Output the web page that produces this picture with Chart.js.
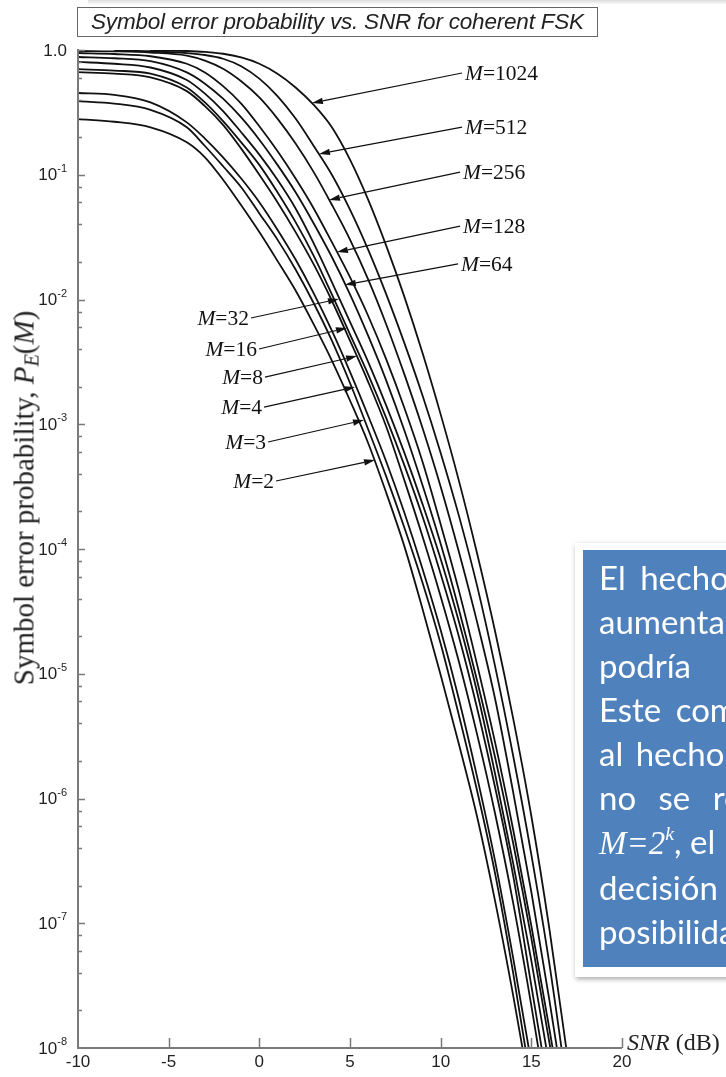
<!DOCTYPE html>
<html lang="es">
<head>
<meta charset="utf-8">
<title>Symbol error probability vs. SNR for coherent FSK</title>
<script src="https://cdn.jsdelivr.net/npm/chart.js@4.4.1/dist/chart.umd.min.js"></script>
<style>
  html, body { margin: 0; padding: 0; background: #fff; overflow: hidden; }
  #page { position: relative; width: 726px; height: 1077px; overflow: hidden; }
  #chart { position: absolute; left: 0; top: 0; }
  .shade { position: absolute; left: 88px; top: 0; width: 638px; height: 5px;
    background: linear-gradient(#dcdcdc, rgba(255,255,255,0)); }
  #title { position: absolute; left: 77px; top: 7px; width: 521px; height: 30px; box-sizing: border-box;
    border: 1px solid #666; font: italic 22.5px "Liberation Sans", Arial, sans-serif; color: #222;
    line-height: 27px; text-align: center; white-space: nowrap; letter-spacing: -0.2px; }
  #ytitle { position: absolute; left: 24px; top: 498px; transform: translate(-50%, -50%) rotate(-90deg);
    font: 29px "Liberation Serif", serif; color: #222; white-space: nowrap; }
  #ytitle i { font-style: italic; }
  #ytitle sub { font-size: 70%; vertical-align: -0.25em; line-height: 0; }
  #xtitle { position: absolute; left: 627px; top: 1029px; font: 24px "Liberation Serif", serif; color: #222; white-space: nowrap; }
  #note-frame { position: absolute; left: 575px; top: 543px; width: 200px; height: 434px; background: #fff;
    box-shadow: 1px 2px 5px rgba(0,0,0,0.35); }
  #note { position: absolute; left: 583px; top: 550px; width: 190px; height: 417px; box-sizing: border-box;
    padding: 5px 0 0 16px; background: #4f81bd; color: #fff; font: 33px Lato, sans-serif; line-height: 44px; }
  #note div { white-space: nowrap; }
  #note .m { font-family: "Liberation Serif", serif; font-style: italic; }
  #note sup { font-size: 60%; vertical-align: 0.7em; line-height: 0; }
</style>
</head>
<body>
<div id="page">
  <canvas id="chart" width="726" height="1077"></canvas>
  <div class="shade"></div>
  <div id="title">Symbol error probability vs. SNR for coherent FSK</div>
  <div id="ytitle">Symbol error probability, <i>P<sub>E</sub></i>(<i>M</i>)</div>
  <div id="xtitle"><i>SNR</i> (dB)</div>
  <div id="note-frame"></div>
  <div id="note">
    <div style="word-spacing: 6px">El hecho de que la probabilidad de error</div>
    <div>aumenta con M para una SNR fija</div>
    <div style="word-spacing: 40px">podría parecer sorprendente.</div>
    <div style="word-spacing: 6px">Este comportamiento se debe</div>
    <div style="word-spacing: 4px">al hecho de que la SNR por símbolo</div>
    <div style="word-spacing: 14px">no se reparte entre los bits: con</div>
    <div><span class="m">M=2<sup>k</sup></span>, el receptor toma una sola</div>
    <div>decisión entre M señales, y crece la</div>
    <div>posibilidad de confundirlas.</div>
  </div>
</div>
<script>
// SNR (dB) sample points shared by every curve
const snrDb = [-10, -8, -6, -4, -3, -2, -1, 0, 1, 2, 3, 4, 5, 6, 7, 8, 9, 10, 11, 12, 13, 14, 15, 16, 17];

// symbol error probability, one list per M
const peM2 = [2.79e-1, 2.66e-1, 2.40e-1, 1.82e-1, 1.38e-1, 9.12e-2, 5.69e-2, 3.47e-2, 2.04e-2, 1.18e-2, 6.31e-3, 3.24e-3, 1.55e-3, 7.08e-4, 2.82e-4, 1.05e-4, 3.31e-5, 9.77e-6, 2.75e-6, 7.24e-7, 1.51e-7, 2.63e-8, 3.98e-9, 5.01e-10, 6.31e-11];
const peM3 = [3.89e-1, 3.72e-1, 3.31e-1, 2.40e-1, 1.70e-1, 1.17e-1, 7.94e-2, 4.90e-2, 3.02e-2, 1.74e-2, 9.33e-3, 4.68e-3, 2.14e-3, 9.12e-4, 3.80e-4, 1.48e-4, 5.37e-5, 1.74e-5, 4.68e-6, 1.17e-6, 2.51e-7, 3.98e-8, 5.01e-9, 6.31e-10, 7.94e-11];
const peM4 = [4.52e-1, 4.37e-1, 3.80e-1, 2.63e-1, 1.95e-1, 1.38e-1, 9.33e-2, 6.03e-2, 3.63e-2, 2.09e-2, 1.12e-2, 5.62e-3, 2.63e-3, 1.17e-3, 5.01e-4, 1.95e-4, 6.92e-5, 2.24e-5, 6.31e-6, 1.51e-6, 3.16e-7, 5.25e-8, 7.59e-9, 1.00e-9, 1.26e-10];
const peM8 = [6.65e-1, 6.46e-1, 6.03e-1, 4.68e-1, 3.55e-1, 2.51e-1, 1.62e-1, 1.00e-1, 6.03e-2, 3.47e-2, 1.91e-2, 9.77e-3, 4.68e-3, 2.19e-3, 9.55e-4, 3.55e-4, 1.26e-4, 4.17e-5, 1.26e-5, 3.31e-6, 7.59e-7, 1.45e-7, 2.19e-8, 2.82e-9, 3.55e-10];
const peM16 = [7.03e-1, 6.84e-1, 6.46e-1, 5.01e-1, 3.80e-1, 2.69e-1, 1.82e-1, 1.20e-1, 7.24e-2, 4.17e-2, 2.24e-2, 1.10e-2, 5.25e-3, 2.51e-3, 1.12e-3, 4.68e-4, 1.82e-4, 6.31e-5, 2.00e-5, 5.37e-6, 1.23e-6, 2.40e-7, 3.16e-8, 4.17e-9, 5.25e-10];
const peM32 = [8.02e-1, 7.76e-1, 7.24e-1, 5.75e-1, 4.47e-1, 3.24e-1, 2.19e-1, 1.45e-1, 9.12e-2, 5.37e-2, 2.82e-2, 1.38e-2, 6.61e-3, 3.16e-3, 1.41e-3, 5.89e-4, 2.29e-4, 8.32e-5, 2.63e-5, 7.24e-6, 1.58e-6, 3.02e-7, 5.01e-8, 7.08e-9, 1.00e-9];
const peM64 = [8.79e-1, 8.59e-1, 8.13e-1, 6.61e-1, 5.37e-1, 4.07e-1, 2.88e-1, 1.91e-1, 1.20e-1, 7.24e-2, 4.07e-2, 2.19e-2, 1.10e-2, 5.13e-3, 2.24e-3, 8.91e-4, 3.24e-4, 1.10e-4, 3.31e-5, 8.91e-6, 2.14e-6, 4.37e-7, 7.59e-8, 1.10e-8, 1.41e-9];
const peM128 = [9.46e-1, 9.29e-1, 8.91e-1, 7.76e-1, 6.61e-1, 5.13e-1, 3.72e-1, 2.45e-1, 1.55e-1, 9.33e-2, 5.37e-2, 2.88e-2, 1.51e-2, 7.41e-3, 3.31e-3, 1.35e-3, 5.01e-4, 1.58e-4, 4.68e-5, 1.20e-5, 2.82e-6, 5.62e-7, 9.55e-8, 1.41e-8, 1.91e-9];
const peM256 = [9.82e-1, 9.75e-1, 9.55e-1, 9.02e-1, 8.22e-1, 7.08e-1, 5.62e-1, 4.17e-1, 2.82e-1, 1.78e-1, 1.05e-1, 5.75e-2, 3.02e-2, 1.45e-2, 6.31e-3, 2.51e-3, 9.33e-4, 3.16e-4, 9.55e-5, 2.63e-5, 6.31e-6, 1.12e-6, 1.78e-7, 2.40e-8, 2.82e-9];
const peM512 = [null, 9.91e-1, 9.77e-1, 9.44e-1, 9.12e-1, 8.51e-1, 7.41e-1, 5.89e-1, 4.27e-1, 2.82e-1, 1.70e-1, 1.00e-1, 5.25e-2, 2.51e-2, 1.10e-2, 4.47e-3, 1.70e-3, 5.89e-4, 1.86e-4, 5.13e-5, 1.15e-5, 2.19e-6, 3.55e-7, 4.68e-8, 4.47e-9];
const peM1024 = [null, null, 9.91e-1, 9.82e-1, 9.66e-1, 9.33e-1, 8.71e-1, 7.76e-1, 6.46e-1, 5.01e-1, 3.63e-1, 2.40e-1, 1.32e-1, 6.31e-2, 2.69e-2, 1.05e-2, 3.72e-3, 1.20e-3, 3.55e-4, 9.33e-5, 2.19e-5, 4.37e-6, 7.24e-7, 8.91e-8, 8.32e-9];

const mValues = ['2', '3', '4', '8', '16', '32', '64', '128', '256', '512', '1024'];
const curves = [peM2, peM3, peM4, peM8, peM16, peM32, peM64, peM128, peM256, peM512, peM1024];

// axis ticks
const xTicks = [-10, -5, 0, 5, 10, 15, 20];
const yDecades = [0, -1, -2, -3, -4, -5, -6, -7, -8];

// curve labels: arrow tip on the curve and tail at the label, in data units
const tipSnr = [6.38, 5.77, 5.28, 5.39, 4.83, 4.39, 4.72, 4.28, 3.84, 3.29, 2.90];
const tipPe = [5.16e-4, 1.08e-3, 1.99e-3, 3.52e-3, 5.92e-3, 1.01e-2, 1.31e-2, 2.40e-2, 6.28e-2, 1.47e-1, 3.76e-1];
const tailSnr = [0.92, 0.48, 0.26, 0.31, -0.02, -0.46, 10.96, 11.07, 11.07, 11.18, 11.18];
const tailPe = [3.51e-4, 7.21e-4, 1.37e-3, 2.39e-3, 4.01e-3, 7.11e-3, 1.93e-2, 3.88e-2, 1.05e-1, 2.41e-1, 6.54e-1];

const datasets = curves.map(function (pe, k) {
  return {
    label: 'M=' + mValues[k],
    data: snrDb.map(function (s, i) { return { x: s, y: pe[i] }; }).filter(function (p) { return p.y !== null; }),
    borderColor: '#111',
    borderWidth: 1.8,
    pointRadius: 0,
    fill: false,
    cubicInterpolationMode: 'monotone',
  };
});

const sansFont = '"Liberation Sans", Arial, sans-serif';
const serifFont = '"Liberation Serif", "Times New Roman", serif';

const axesPlugin = {
  id: 'fskAxes',
  afterDraw: function (chart) {
    const ctx = chart.ctx;
    const a = chart.chartArea;
    const xs = chart.scales.x;
    const ys = chart.scales.y;
    ctx.save();

    // axis lines
    ctx.strokeStyle = '#7a7a7a';
    ctx.lineWidth = 2;
    ctx.beginPath();
    ctx.moveTo(a.left, a.top - 1);
    ctx.lineTo(a.left, a.bottom);
    ctx.lineTo(a.right, a.bottom);
    ctx.stroke();

    // inside tick marks
    ctx.lineWidth = 1.5;
    ctx.beginPath();
    xTicks.slice(1).forEach(function (v) {
      const px = Math.round(xs.getPixelForValue(v)) + 0.5;
      ctx.moveTo(px, a.bottom);
      ctx.lineTo(px, a.bottom - 10);
    });
    yDecades.forEach(function (e) {
      const py = Math.round(ys.getPixelForValue(Math.pow(10, e))) + 0.5;
      if (e > -8) {
        ctx.moveTo(a.left, py);
        ctx.lineTo(a.left + 7, py);
      }
      if (e < 0) {
        [2, 4, 6, 8].forEach(function (m) {
          const pm = Math.round(ys.getPixelForValue(m * Math.pow(10, e))) + 0.5;
          ctx.moveTo(a.left, pm);
          ctx.lineTo(a.left + 4, pm);
        });
      }
    });
    ctx.stroke();

    // tick labels
    ctx.fillStyle = '#222';
    ctx.font = '17px ' + sansFont;
    ctx.textAlign = 'center';
    ctx.textBaseline = 'top';
    xTicks.forEach(function (v) {
      ctx.fillText(String(v), xs.getPixelForValue(v), a.bottom + 6);
    });
    const right = a.left - 11;
    yDecades.forEach(function (e) {
      const py = ys.getPixelForValue(Math.pow(10, e));
      ctx.textBaseline = 'middle';
      ctx.textAlign = 'right';
      if (e === 0) {
        ctx.font = '17px ' + sansFont;
        ctx.fillText('1.0', right, py + 1);
        return;
      }
      ctx.font = '11px ' + sansFont;
      const sup = String(e);
      const w = ctx.measureText(sup).width;
      ctx.fillText(sup, right, py - 6);
      ctx.font = '17px ' + sansFont;
      ctx.fillText('10', right - w, py + 1);
    });

    // curve labels with arrows
    ctx.strokeStyle = '#111';
    ctx.fillStyle = '#111';
    ctx.lineWidth = 1.2;
    mValues.forEach(function (m, i) {
      const tx = xs.getPixelForValue(tipSnr[i]);
      const ty = ys.getPixelForValue(tipPe[i]);
      const sx = xs.getPixelForValue(tailSnr[i]);
      const sy = ys.getPixelForValue(tailPe[i]);
      const ang = Math.atan2(ty - sy, tx - sx);
      const len = 11, half = 3.2;
      const bx = tx - len * Math.cos(ang), by = ty - len * Math.sin(ang);
      ctx.beginPath();
      ctx.moveTo(sx, sy);
      ctx.lineTo(bx, by);
      ctx.stroke();
      ctx.beginPath();
      ctx.moveTo(tx, ty);
      ctx.lineTo(bx + half * Math.sin(ang), by - half * Math.cos(ang));
      ctx.lineTo(bx - half * Math.sin(ang), by + half * Math.cos(ang));
      ctx.closePath();
      ctx.fill();

      ctx.textBaseline = 'middle';
      ctx.textAlign = 'left';
      ctx.font = 'italic 21.5px ' + serifFont;
      const wM = ctx.measureText('M').width;
      ctx.font = '21.5px ' + serifFont;
      const rest = '=' + m;
      const wR = ctx.measureText(rest).width;
      let x0 = sx > tx ? sx + 3 : sx - 2 - wM - wR;
      ctx.font = 'italic 21.5px ' + serifFont;
      ctx.fillText('M', x0, sy + 1);
      ctx.font = '21.5px ' + serifFont;
      ctx.fillText(rest, x0 + wM, sy + 1);
    });

    ctx.restore();
  }
};

new Chart(document.getElementById('chart').getContext('2d'), {
  type: 'line',
  data: { datasets: datasets },
  options: {
    responsive: false,
    animation: false,
    devicePixelRatio: 1,
    layout: { padding: { left: 78, right: 104, top: 50, bottom: 29 } },
    plugins: { legend: { display: false }, tooltip: { enabled: false }, title: { display: false } },
    scales: {
      x: { type: 'linear', min: -10, max: 20, display: false },
      y: { type: 'logarithmic', min: 1e-8, max: 1, display: false },
    },
  },
  plugins: [axesPlugin],
});
</script>
</body>
</html>
